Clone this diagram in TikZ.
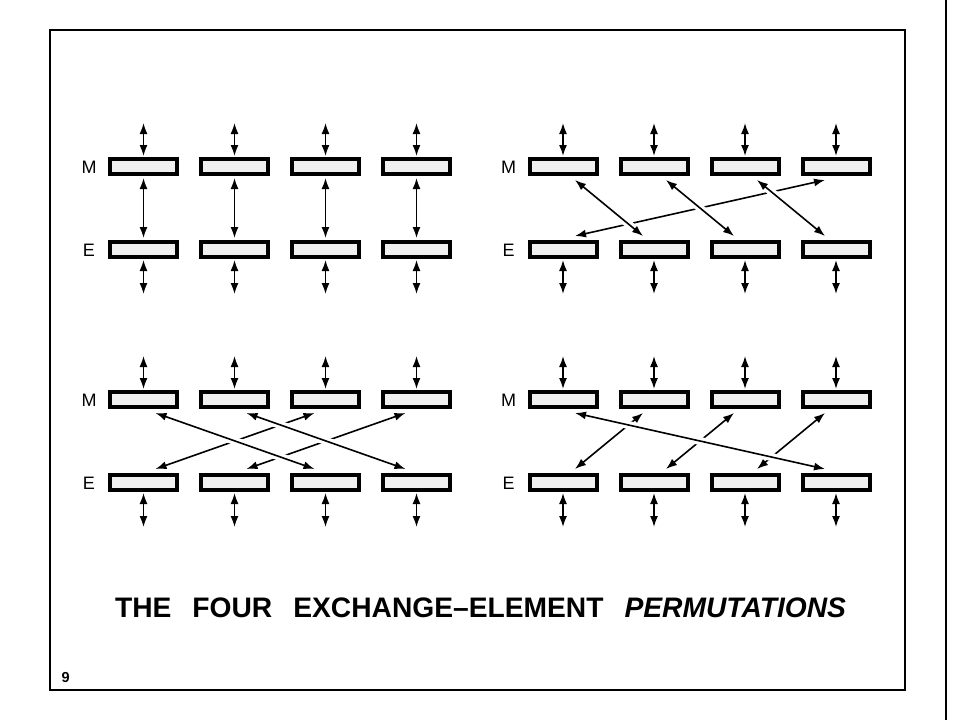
\documentclass[tikz,border=0pt]{standalone}
\usepackage{fontspec}
\setmainfont{Liberation Sans}
\usetikzlibrary{arrows.meta,calc}
\begin{document}
\begin{tikzpicture}[x=1pt,y=-1pt,
  cell/.style={draw, line width=4pt, fill=gray!12, minimum width=67pt, minimum height=15pt, inner sep=0pt},
  link/.style={line width=1.6pt, {Latex[length=11pt,width=8pt]}-{Latex[length=11pt,width=8pt]}},
  gapline/.style={draw=white, line width=8pt, shorten <=15pt, shorten >=15pt},
  lab/.style={font=\fontsize{18}{18}\selectfont, anchor=base, inner sep=0pt}]
\useasboundingbox (0,0) rectangle (960,720);
\fill[white] (0,0) rectangle (960,720);
\draw[line width=2.2pt] (50,30) rectangle (905,690);
\draw[line width=1.6pt] (946,0) -- (946,720);

\foreach \p/\ox/\oy in {a/0/0, b/419.5/0, c/0/233, d/419.5/233} {
  \node[lab] (\p labM) at (89+\ox, 173.5+\oy) {M};
  \node[lab] (\p labE) at (89+\ox, 256.5+\oy) {E};
  \foreach \i in {1,...,4} {
    \node[cell] (\p M\i) at ({143.5+91*(\i-1)+\ox}, 166.5+\oy) {};
    \node[cell] (\p E\i) at ({143.5+91*(\i-1)+\ox}, 249.5+\oy) {};
    \draw[link] ($(\p M\i.north)+(0,-34)$) -- ($(\p M\i.north)+(0,-1)$);
    \draw[link] ($(\p E\i.south)+(0,1)$) -- ($(\p E\i.south)+(0,35)$);
  }
}

% panel a: straight
\foreach \i in {1,...,4} {
  \draw[link] ($(aM\i.south)+(0,2)$) -- ($(aE\i.north)+(0,-2)$);
}

% panel b
\draw[link] ($(bE1.north)+(12,-4)$) -- ($(bM4.south)+(-11,4)$);
\foreach \i/\j in {1/2, 2/3, 3/4} {
  \draw[gapline] ($(bM\i.south)+(12,4)$) -- ($(bE\j.north)+(-11,-4)$);
  \draw[link] ($(bM\i.south)+(12,4)$) -- ($(bE\j.north)+(-11,-4)$);
}

% panel c
\foreach \i/\j in {1/3, 2/4} {
  \draw[link] ($(cE\i.north)+(12,-4)$) -- ($(cM\j.south)+(-11,4)$);
}
\foreach \i/\j in {1/3, 2/4} {
  \draw[gapline] ($(cM\i.south)+(12,4)$) -- ($(cE\j.north)+(-11,-4)$);
  \draw[link] ($(cM\i.south)+(12,4)$) -- ($(cE\j.north)+(-11,-4)$);
}

% panel d
\foreach \i/\j in {1/2, 2/3, 3/4} {
  \draw[link] ($(dE\i.north)+(12,-4)$) -- ($(dM\j.south)+(-11,4)$);
}
\draw[gapline] ($(dM1.south)+(12,4)$) -- ($(dE4.north)+(-11,-4)$);
\draw[link] ($(dM1.south)+(12,4)$) -- ($(dE4.north)+(-11,-4)$);

\node[anchor=base, inner sep=0pt] (title) at (480.5,617.5)
  {\fontsize{28.2}{28.2}\selectfont\bfseries THE\hspace{21pt}FOUR\hspace{21pt}EXCHANGE–ELEMENT\hspace{21pt}\itshape PERMUTATIONS};
\node[anchor=base west, inner sep=0pt] (pagenum) at (61.5,682)
  {\fontsize{14.5}{14.5}\selectfont\bfseries 9};
\end{tikzpicture}
\end{document}
